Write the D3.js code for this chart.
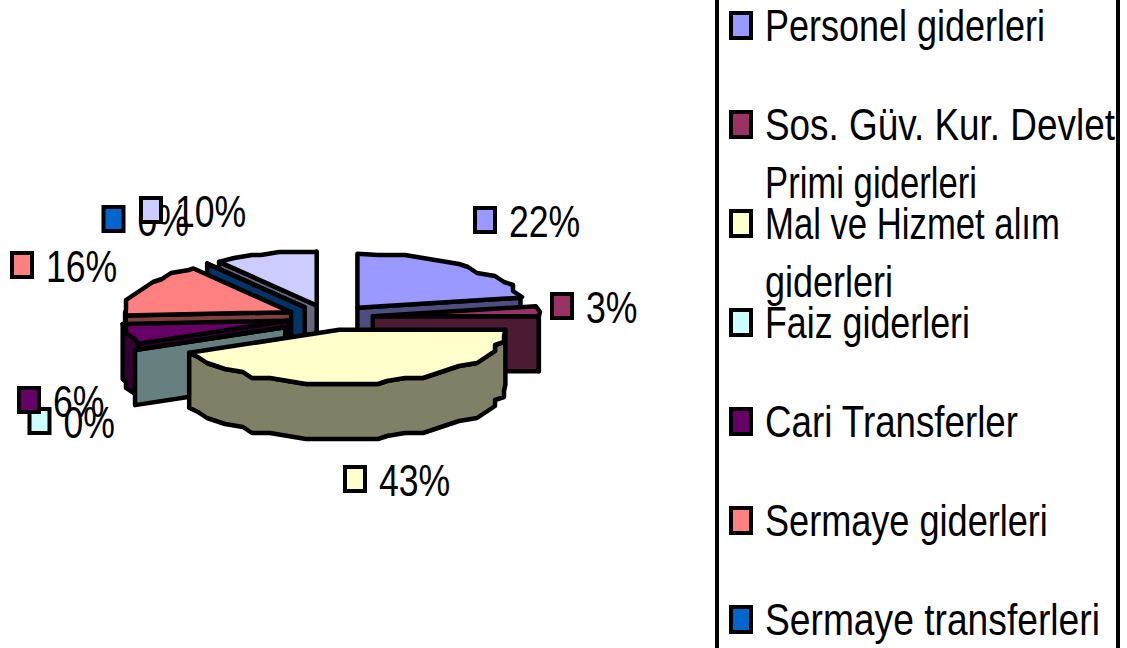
<!DOCTYPE html>
<html>
<head>
<meta charset="utf-8">
<title>Giderler</title>
<style>
body { margin: 0; background: white; }
svg { display: block; }
.slice path { stroke: black; stroke-width: 4.5px; stroke-linejoin: round; }
.swatch { stroke: black; stroke-width: 4px; }
text { font-family: "Liberation Sans", Arial, sans-serif; font-size: 44px; fill: black; }
.frame { stroke: black; stroke-width: 4px; }
</style>
<script src="https://cdnjs.cloudflare.com/ajax/libs/d3/7.8.5/d3.min.js"></script>
</head>
<body>
<svg width="1127" height="648"></svg>
<script>
// values in percent, clockwise from 12 o'clock
var values = [22, 3, 43, 0, 6, 16, 0, 10];
var colors = ["#9999ff", "#993366", "#ffffcc", "#ccffff", "#660066", "#ff8080", "#0066cc", "#ccccff"];
// last slice's legend row falls below the picture
var legendLines = [
  ["Personel giderleri"],
  ["Sos. Güv. Kur. Devlet", "Primi giderleri"],
  ["Mal ve Hizmet alım", "giderleri"],
  ["Faiz giderleri"],
  ["Cari Transferler"],
  ["Sermaye giderleri"],
  ["Sermaye transferleri"]
];
var legendWidths = [[280], [350, 212], [295, 128], [205], [253], [283], [335]];

// layout
var cx = 330, cy = 317.5, rx = 166, ry = 54, depth = 55;
var explodeX = 43, explodeY = 12.6;
var boostX = [1, 1, 1, 1.15, 1, 1, 1, 1];
var boostY = [1, 1, 1, 1.8, 1, 1, 1, 1];
var labelSpots = [[485, 220], [562, 306], [355, 479], [39.5, 421], [29, 400], [22, 265], [113.5, 219], [151, 210]];
var drawOrder = [7, 6, 5, 4, 3, 0, 1, 2];

var svg = d3.select("svg");
var pie = d3.pie().sort(null)(values);
var line = d3.line();
var step = 6 * Math.PI / 180;
var gridX = 9, gridY = 3;

var slices = pie.map(function (p, i) {
  var mid = (p.startAngle + p.endAngle) / 2;
  return {
    i: i, a0: p.startAngle, a1: p.endAngle,
    ax: cx + explodeX * boostX[i] * Math.sin(mid),
    ay: cy - explodeY * boostY[i] * Math.cos(mid)
  };
});

function rimPoint(s, a) {
  return [s.ax + rx * Math.sin(a), s.ay - ry * Math.cos(a)];
}
// the source chart's rim is a coarse stepped outline, so snap the inner points
function rim(s, a0, a1) {
  var pts = d3.range(a0 + step, a1, step).map(function (a) {
    var p = rimPoint(s, a);
    return [Math.round(p[0] / gridX) * gridX, Math.round(p[1] / gridY) * gridY];
  });
  return [rimPoint(s, a0)].concat(pts, [rimPoint(s, a1)]);
}
function drop(p) { return [p[0], p[1] + depth]; }

var g = svg.selectAll(".slice")
  .data(drawOrder.map(function (i) { return slices[i]; }))
  .enter().append("g")
  .attr("class", "slice");

g.each(function (s) {
  var el = d3.select(this);
  var top = colors[s.i];
  var side = d3.interpolateRgb(top, "black")(0.5);
  var apex = [s.ax, s.ay];
  function wall(a) {
    var o = rimPoint(s, a);
    el.append("path").attr("fill", side)
      .attr("d", line([apex, o, drop(o), drop(apex)]) + "Z");
  }
  if (Math.sin(s.a0) < 0) wall(s.a0);
  if (Math.sin(s.a1) > 0 && s.a1 > s.a0) wall(s.a1);
  // outer rim, only the part that faces the viewer
  var f0 = Math.max(s.a0, Math.PI / 2), f1 = Math.min(s.a1, 3 * Math.PI / 2);
  if (f1 > f0) {
    var edge = rim(s, f0, f1);
    el.append("path").attr("fill", side)
      .attr("d", line(edge.concat(edge.map(drop).reverse())) + "Z");
  }
  el.append("path").attr("fill", top)
    .attr("d", line([apex].concat(rim(s, s.a0, s.a1))) + "Z");
});

// data labels
var labels = svg.selectAll(".label")
  .data(values)
  .enter().append("g")
  .attr("class", "label")
  .attr("transform", function (d, i) { return "translate(" + labelSpots[i] + ")"; });
labels.append("rect")
  .attr("class", "swatch")
  .attr("x", -10).attr("y", -12).attr("width", 20).attr("height", 24)
  .attr("fill", function (d, i) { return colors[i]; });
labels.append("text")
  .attr("transform", "translate(24,17) scale(0.81,1)")
  .text(function (d) { return d + "%"; });

// legend
svg.append("line").attr("class", "frame").attr("x1", 717).attr("x2", 717).attr("y1", 0).attr("y2", 648);
svg.append("line").attr("class", "frame").attr("x1", 1118).attr("x2", 1118).attr("y1", 0).attr("y2", 648);

var legendY = d3.scaleLinear().domain([0, 1]).range([41, 140]);
var items = svg.selectAll(".legend-item")
  .data(legendLines)
  .enter().append("g")
  .attr("class", "legend-item")
  .attr("transform", function (d, i) { return "translate(765," + legendY(i) + ")"; });
items.append("rect")
  .attr("class", "swatch")
  .attr("x", -34).attr("y", -28).attr("width", 20).attr("height", 25)
  .attr("fill", function (d, i) { return colors[i]; });
items.each(function (d, i) {
  d3.select(this).selectAll("text")
    .data(d)
    .enter().append("text")
    .text(function (t) { return t; })
    .attr("transform", function (t, j) {
      // squeeze each line to the width it has in the picture
      var sx = legendWidths[i][j] / this.getComputedTextLength();
      return "translate(0," + (j * 58) + ") scale(" + sx + ",1)";
    });
});
</script>
</body>
</html>
